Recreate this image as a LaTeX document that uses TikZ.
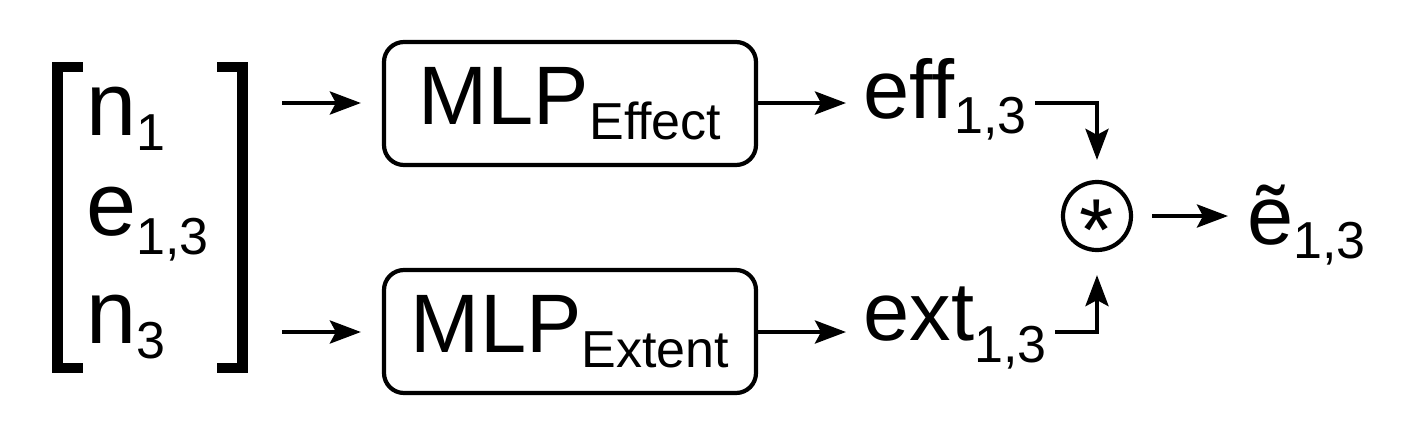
\documentclass[tikz,border=0pt]{standalone}
\usepackage{fontspec}
\setmainfont{Liberation Sans}
\usetikzlibrary{arrows.meta}
\newcommand{\bigtxt}[1]{{\fontsize{45}{45}\selectfont #1}}
\newcommand{\midtxt}[1]{{\fontsize{41.5}{41.5}\selectfont #1}}
\newcommand{\subtxt}[2]{\raisebox{-#1pt}{\fontsize{26}{26}\selectfont #2}}
\begin{document}
\begin{tikzpicture}[x=0.5pt,y=-0.5pt,
  conn/.style={line width=2.1pt,-{Stealth[length=15.5pt,width=11.5pt,inset=3pt]}},
  mlpbox/.style={draw,line width=2.1pt,rounded corners=10pt,minimum width=186pt,minimum height=61.5pt,inner sep=0pt},
  txt/.style={inner sep=0pt,anchor=base west},
  opcirc/.style={draw,circle,line width=2.1pt,minimum size=34pt,inner sep=0pt}]
\useasboundingbox (0,0) rectangle (1410,440);
% brackets
\fill (52,62) rectangle (63,373);
\fill (52,62) rectangle (83,72);
\fill (52,363) rectangle (83,373);
\fill (237,62) rectangle (248,373);
\fill (217,62) rectangle (248,72);
\fill (217,363) rectangle (248,373);
% matrix entries
\node[txt] (n1) at (86,135) {\bigtxt{n}\subtxt{7.5}{1}};
\node[txt] (e13) at (86,235) {\bigtxt{e}\subtxt{9.5}{1,3}};
\node[txt] (n3) at (86,343) {\bigtxt{n}\subtxt{7.5}{3}};
% boxes
\node[mlpbox] (eff) at (570,103.5) {\midtxt{MLP}\subtxt{7.5}{Effect}};
\node[mlpbox] (ext) at (570,331.5) {\midtxt{MLP}\subtxt{7.5}{Extent}};
% outputs
\node[txt] (effo) at (863,118) {\midtxt{eff}\subtxt{7.5}{1,3}};
\node[txt] (exto) at (863,340) {\midtxt{ext}\subtxt{11}{1,3}};
\node[opcirc] (mul) at (1097,216) {\raisebox{-22pt}[0pt][0pt]{\fontsize{44}{44}\selectfont *}};
\node[txt] (res) at (1247,244) {\midtxt{ẽ}\subtxt{7}{1,3}};
% coordinates
\coordinate (a1) at (282,103);
\coordinate (a2) at (282,332);
\coordinate (b1) at (1035,103);
\coordinate (b2) at (1055,332);
% connectors
\draw[conn,shorten >=10.5pt] (a1) -- (eff.west |- a1);
\draw[conn,shorten >=10.5pt] (a2) -- (ext.west |- a2);
\draw[conn,shorten >=8.5pt] (eff.east |- a1) -- (effo.west |- a1);
\draw[conn,shorten >=8.5pt] (ext.east |- a2) -- (exto.west |- a2);
\draw[conn,shorten >=10pt] (b1) -| (mul.north);
\draw[conn,shorten >=11.5pt] (b2) -| (mul.south);
\draw[conn,shorten <=9.5pt,shorten >=9.5pt] (mul.east) -- (res.west |- mul.east);
\end{tikzpicture}
\end{document}
